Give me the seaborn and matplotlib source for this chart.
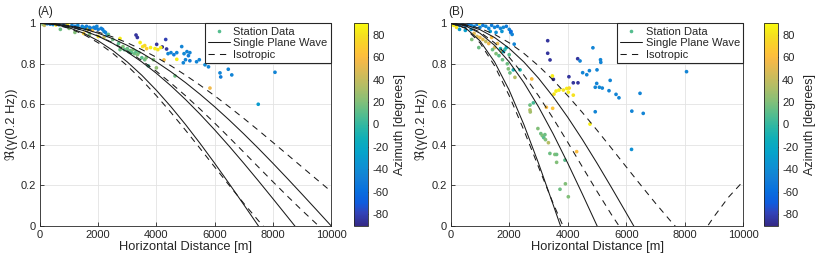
"""
Coherence vs. horizontal distance at 0.2 Hz for two station sets,
with single plane wave and isotropic model curves.
"""

import pandas as pd
import matplotlib
matplotlib.use("Agg")
import matplotlib.pyplot as plt
from matplotlib.colors import LinearSegmentedColormap, Normalize
from matplotlib.cm import ScalarMappable
from matplotlib.lines import Line2D
import seaborn as sns

# ---- model curves, read every 500 m ----
X_GRID = [0, 500, 1000, 1500, 2000, 2500, 3000, 3500, 4000, 4500, 5000,
          5500, 6000, 6500, 7000, 7500, 8000, 8500, 9000, 9500, 10000]

PLANE_3000 = [1, 0.9781, 0.9135, 0.8090, 0.6691, 0.5, 0.3090, 0.1045, -0.1045, -0.3090, -0.5,
              -0.6691, -0.8090, -0.9135, -0.9781, -1, -0.9781, -0.9135, -0.8090, -0.6691, -0.5]
PLANE_4000 = [1, 0.9877, 0.9511, 0.8910, 0.8090, 0.7071, 0.5878, 0.4540, 0.3090, 0.1564, 0,
              -0.1564, -0.3090, -0.4540, -0.5878, -0.7071, -0.8090, -0.8910, -0.9511, -0.9877, -1]
PLANE_5000 = [1, 0.9921, 0.9686, 0.9298, 0.8763, 0.8090, 0.7290, 0.6374, 0.5358, 0.4258, 0.3090,
              0.1874, 0.0628, -0.0628, -0.1874, -0.3090, -0.4258, -0.5358, -0.6374, -0.7290, -0.8090]
PLANE_6000 = [1, 0.9945, 0.9781, 0.9511, 0.9135, 0.8660, 0.8090, 0.7431, 0.6691, 0.5878, 0.5,
              0.4067, 0.3090, 0.2079, 0.1045, 0, -0.1045, -0.2079, -0.3090, -0.4067, -0.5]
PLANE_7000 = [1, 0.9960, 0.9839, 0.9639, 0.9362, 0.9010, 0.8584, 0.8090, 0.7530, 0.6910, 0.6235,
              0.5509, 0.4739, 0.3931, 0.3090, 0.2225, 0.1342, 0.0449, -0.0449, -0.1342, -0.2225]
PLANE_8000 = [1, 0.9969, 0.9877, 0.9724, 0.9511, 0.9239, 0.8910, 0.8526, 0.8090, 0.7604, 0.7071,
              0.6494, 0.5878, 0.5225, 0.4540, 0.3827, 0.3090, 0.2334, 0.1564, 0.0785, 0]

ISO_2000 = [1, 0.9755, 0.9037, 0.7900, 0.6422, 0.4720, 0.2905, 0.1109, -0.0548, -0.1958, -0.3042,
            -0.3731, -0.4016, -0.3900, -0.3426, -0.2658, -0.1688, -0.0617, 0.0451, 0.1417, 0.2203]
ISO_3000 = [1, 0.9891, 0.9566, 0.9037, 0.8321, 0.7437, 0.6422, 0.5305, 0.4120, 0.2905, 0.1698,
            0.0535, -0.0548, -0.1521, -0.2358, -0.3042, -0.3545, -0.3872, -0.4016, -0.3981, -0.3779]
ISO_4000 = [1, 0.9938, 0.9755, 0.9452, 0.9037, 0.8516, 0.7900, 0.7198, 0.6422, 0.5593, 0.4720,
            0.3818, 0.2905, 0.1998, 0.1109, 0.0257, -0.0548, -0.1289, -0.1958, -0.2545, -0.3042]
ISO_5000 = [1, 0.9961, 0.9843, 0.9648, 0.9378, 0.9037, 0.8629, 0.8157, 0.7629, 0.7046, 0.6422,
            0.5763, 0.5073, 0.4361, 0.3636, 0.2905, 0.2178, 0.1462, 0.0764, 0.0091, -0.0548]
ISO_6000 = [1, 0.9973, 0.9891, 0.9755, 0.9566, 0.9326, 0.9037, 0.8701, 0.8321, 0.7900, 0.7437,
            0.6944, 0.6422, 0.5874, 0.5305, 0.4720, 0.4120, 0.3514, 0.2905, 0.2299, 0.1698]

# ---- station data, panel A ----
A_DIST = [100, 150, 250, 350, 450, 550, 650, 700, 800, 900, 950, 1000, 1100, 1200, 1300,
          1350, 1450, 1500, 1550, 1600, 1650, 1700, 1750, 1800, 1850, 1900, 1950, 2000, 2100,
          2150, 2200, 2300, 1200, 1500, 1700, 2000, 2200, 2350, 2250,
          2500, 2700, 2750, 2850, 2900, 3000, 3050, 3100, 3150, 3200, 3250, 3300, 3350, 3400,
          3500, 3600, 3650, 3720, 3900, 4000, 4640,
          3300, 3345, 4010, 4200, 4320, 4350,
          2750, 3440, 3530, 3600, 3665, 3800, 3950, 4050, 4150, 4700,
          4260, 5840,
          4400, 4500, 4600, 4700, 4870, 4950, 5050, 5100, 5150, 4925, 5000, 5150, 5380, 5475,
          5670, 5790, 6185, 6210, 6470, 6590, 8075, 7500]
A_COH = [0.995, 0.99, 0.998, 0.996, 0.994, 0.992, 0.993, 0.97, 0.99, 0.985, 0.998, 0.975, 0.99,
         0.985, 0.99, 0.975, 0.985, 0.98, 0.975, 0.985, 0.97, 0.98, 0.975, 0.965, 0.98, 0.975,
         0.985, 0.97, 0.975, 0.97, 0.96, 0.94, 0.955, 0.95, 0.945, 0.935, 0.93, 0.945, 0.955,
         0.92, 0.90, 0.87, 0.885, 0.87, 0.875, 0.86, 0.865, 0.855, 0.87, 0.85, 0.86, 0.845, 0.855,
         0.83, 0.82, 0.83, 0.79, 0.82, 0.78, 0.74,
         0.942, 0.93, 0.896, 0.883, 0.92, 0.873,
         0.925, 0.905, 0.885, 0.89, 0.875, 0.88, 0.875, 0.87, 0.88, 0.822,
         0.819, 0.68,
         0.85, 0.855, 0.845, 0.855, 0.885, 0.85, 0.86, 0.84, 0.855, 0.805, 0.82, 0.815, 0.81, 0.82,
         0.795, 0.785, 0.755, 0.735, 0.773, 0.745, 0.758, 0.60]
A_AZ = [20, 40, -45, -50, -42, 80, -45, 15, -50, -38, 85, 20, -45, -50, -42,
        -45, -50, -35, -45, -50, 80, -45, -50, 60, -45, -50, -45, -50, -45,
        -50, -42, -42, 20, 70, 20, 80, 40, 10, -45,
        15, 10, 15, 20, 10, 15, 5, 15, 10, 20, 15, 10, 20, 15,
        10, 15, 20, 5, 20, 25, 15,
        -85, -85, -85, -88, -80, -85,
        85, 85, 80, 75, 70, 85, 85, 80, 85, 85,
        60, 55,
        -45, -45, -50, -45, -45, -42, -45, -50, -45, -45, -45, -50, -45, -45,
        -42, -45, -45, -50, -45, -45, -45, -30]

# ---- station data, panel B ----
B_DIST = [200, 300, 400, 500, 600, 700, 800, 900, 1000, 1100, 1200, 1300, 1400, 1500, 1600,
          1700, 1800, 1900, 2000, 2050, 2100, 1750, 1550, 2170, 2060,
          300, 500, 700, 1350, 100, 200, 980,
          800, 900, 1000, 1100, 1200, 1300, 1400, 1500, 1600, 1740,
          720, 960, 1430, 1550, 1650, 1770, 1850, 1935, 1970, 2025, 2000,
          1700, 1900, 2140, 2370, 1800,
          2195, 2710, 2720, 3340,
          2770, 3270, 3485, 4305,
          2710, 2825, 2980, 3080, 3130, 3180, 3220, 3240, 3390, 3560, 3620, 3620, 3905, 3735,
          3920, 4020,
          3315, 3315, 3395, 3510, 4040, 4190, 4350, 4340,
          3475, 3530, 3600, 3700, 3850, 3965, 4020, 4050, 4190, 4760,
          4420, 4510, 4650, 4740, 4860, 5000, 4940, 4990, 5080, 5180, 5120, 5130, 5450, 5410,
          5650, 5750, 4940, 6190, 6470, 6580, 6180, 8060]
B_COH = [0.995, 0.99, 0.998, 0.985, 0.995, 0.99, 0.985, 0.995, 0.98, 0.99, 0.985, 0.975, 0.99,
         0.98, 0.985, 0.975, 0.98, 0.985, 0.97, 0.955, 0.945, 0.96, 0.955, 0.897, 0.96,
         0.97, 0.965, 0.97, 0.96, 0.99, 0.98, 1.0,
         0.95, 0.935, 0.93, 0.92, 0.91, 0.90, 0.93, 0.88, 0.90, 0.86,
         0.92, 0.88, 0.87, 0.85, 0.84, 0.82, 0.87, 0.80, 0.775, 0.755, 0.845,
         0.875, 0.88, 0.77, 0.77, 0.86,
         0.733, 0.572, 0.562, 0.41,
         0.725, 0.585, 0.58, 0.366,
         0.596, 0.607, 0.48, 0.455, 0.445, 0.435, 0.45, 0.425, 0.357, 0.352, 0.352, 0.313,
         0.324, 0.18, 0.207, 0.143,
         0.914, 0.852, 0.819, 0.723, 0.736, 0.706, 0.706, 0.825,
         0.74, 0.65, 0.665, 0.67, 0.67, 0.678, 0.66, 0.68, 0.645, 0.502,
         0.814, 0.756, 0.746, 0.766, 0.879, 0.77, 0.684, 0.703, 0.684, 0.68, 0.82, 0.807, 0.718,
         0.667, 0.649, 0.632, 0.563, 0.566, 0.654, 0.555, 0.377, 0.761]
B_AZ = [-45, -50, -42, -45, -50, -45, -42, -50, -45, -50, -42, -45, -50, -45, -50,
        -45, -42, -50, -45, -50, -45, -35, -38, -45, -60,
        -30, -28, -30, -30, 85, 80, 85,
        50, 45, 55, 50, 40, 55, 60, 45, 50, 55,
        20, 15, 15, 20, 10, 15, 5, 15, 20, 15, 10,
        -10, -15, -10, -5, -20,
        35, 35, 30, 35,
        60, 60, 65, 60,
        15, 5, 20, 15, 20, 10, 15, 20, 15, 20, 15, 20, 10, 15,
        20, 20,
        -85, -85, -85, -88, -85, -85, -85, -85,
        85, 80, 85, 85, 80, 85, 85, 75, 80, 85,
        -45, -45, -45, -45, -45, -45, -45, -45, -42, -45, -45, -45, -45, -45,
        -45, -45, -45, -45, -45, -45, -38, -45]

Y_TICKS = [0, 0.2, 0.4, 0.6, 0.8, 1]
Y_TICK_LABELS = ["0", "0.2", "0.4", "0.6", "0.8", "1"]
X_TICKS = [0, 2000, 4000, 6000, 8000, 10000]
CBAR_TICKS = [-80, -60, -40, -20, 0, 20, 40, 60, 80]

# parula-like colormap
PARULA = LinearSegmentedColormap.from_list("parula", [
    (0 / 63, (0.2081, 0.1663, 0.5292)), (4 / 63, (0.1959, 0.2645, 0.7279)),
    (7 / 63, (0.0591, 0.3598, 0.8683)), (11 / 63, (0.0329, 0.4430, 0.8720)),
    (15 / 63, (0.0779, 0.5040, 0.8384)), (19 / 63, (0.0488, 0.5772, 0.8228)),
    (23 / 63, (0.0231, 0.6418, 0.7913)), (27 / 63, (0.0590, 0.6838, 0.7254)),
    (31 / 63, (0.1801, 0.7177, 0.6424)), (35 / 63, (0.3482, 0.7424, 0.5473)),
    (39 / 63, (0.5300, 0.7491, 0.4661)), (43 / 63, (0.6834, 0.7435, 0.4044)),
    (47 / 63, (0.8185, 0.7327, 0.3498)), (51 / 63, (0.9450, 0.7261, 0.2886)),
    (53 / 63, (0.9938, 0.7455, 0.2403)), (56 / 63, (0.9880, 0.8066, 0.1794)),
    (59 / 63, (0.9626, 0.8705, 0.1309)), (63 / 63, (0.9763, 0.9831, 0.0538)),
])
NORM = Normalize(vmin=-90, vmax=90)
TEXT_COL = "#262626"

sns.set_theme(style="ticks")
plt.rcParams["font.family"] = ["Liberation Sans", "DejaVu Sans"]
plt.rcParams["axes.unicode_minus"] = False


def draw_panel(fig, rect, cbar_rect, tag, dist, coh, az, planes, isos):
    ax = fig.add_axes(rect)
    df = pd.DataFrame({"dist": dist, "coh": coh, "az": az})
    sns.scatterplot(data=df, x="dist", y="coh", hue="az", palette=PARULA, hue_norm=NORM,
                    s=7, linewidth=0, legend=False, ax=ax, zorder=2)
    for vals in planes:
        sns.lineplot(x=X_GRID, y=vals, color="#1a1a1a", lw=0.75, ax=ax, zorder=3)
    for vals in isos:
        sns.lineplot(x=X_GRID, y=vals, color="#1a1a1a", lw=0.75, ax=ax, zorder=3,
                     linestyle=(0, (6, 5)))

    ax.set_xlim(0, 10000)
    ax.set_ylim(0, 1)
    ax.set_xticks(X_TICKS)
    ax.set_xticklabels([str(t) for t in X_TICKS])
    ax.set_yticks(Y_TICKS)
    ax.set_yticklabels(Y_TICK_LABELS)
    ax.grid(True, color="#e3e3e3", lw=0.6)
    ax.set_axisbelow(True)
    ax.tick_params(direction="in", length=3, width=0.6, labelsize=8, colors=TEXT_COL, pad=3)
    for sp in ax.spines.values():
        sp.set_visible(True)
        sp.set_color(TEXT_COL)
        sp.set_linewidth(0.6)
    ax.set_xlabel("Horizontal Distance [m]", fontsize=9.3, color=TEXT_COL, labelpad=1)
    ax.set_ylabel("ℜ(γ(0.2 Hz))", fontsize=9.3, color=TEXT_COL, labelpad=2)
    ax.text(-0.01, 1.025, tag, transform=ax.transAxes, fontsize=8.5, color=TEXT_COL,
            ha="left", va="bottom")

    handles = [
        Line2D([], [], marker="o", linestyle="none", markersize=2.6,
               markerfacecolor=PARULA(0.55), markeredgecolor="none"),
        Line2D([], [], color="#1a1a1a", lw=0.75),
        Line2D([], [], color="#1a1a1a", lw=0.75, linestyle=(0, (6, 5))),
    ]
    leg = ax.legend(handles, ["Station Data", "Single Plane Wave", "Isotropic"],
                    loc="upper right", borderaxespad=0, fontsize=8, frameon=True,
                    fancybox=False, framealpha=1, handlelength=2.0, handletextpad=0.3,
                    labelspacing=0.15, borderpad=0.3)
    leg.get_frame().set_edgecolor(TEXT_COL)
    leg.get_frame().set_linewidth(0.8)
    for t in leg.get_texts():
        t.set_color(TEXT_COL)

    cax = fig.add_axes(cbar_rect)
    cb = fig.colorbar(ScalarMappable(norm=NORM, cmap=PARULA), cax=cax, ticks=CBAR_TICKS)
    cb.outline.set_linewidth(0.6)
    cb.outline.set_edgecolor(TEXT_COL)
    cax.tick_params(direction="in", length=2.5, width=0.6, labelsize=8, colors=TEXT_COL, pad=3)
    cb.set_label("Azimuth [degrees]", fontsize=9, color=TEXT_COL, labelpad=4)
    return ax


def main():
    fig = plt.figure(figsize=(8.22, 2.62), dpi=100)
    draw_panel(fig, [40 / 822, 36.3 / 262, 291 / 822, 202.4 / 262],
               [354.3 / 822, 36.3 / 262, 14 / 822, 202.4 / 262], "(A)",
               A_DIST, A_COH, A_AZ,
               [PLANE_6000, PLANE_7000, PLANE_8000], [ISO_4000, ISO_5000, ISO_6000])
    draw_panel(fig, [450.7 / 822, 36.3 / 262, 292.6 / 822, 202.4 / 262],
               [764 / 822, 36.3 / 262, 14 / 822, 202.4 / 262], "(B)",
               B_DIST, B_COH, B_AZ,
               [PLANE_3000, PLANE_4000, PLANE_5000], [ISO_2000, ISO_3000, ISO_4000])
    fig.savefig("out.png", dpi=100)
    plt.close(fig)


if __name__ == "__main__":
    main()
